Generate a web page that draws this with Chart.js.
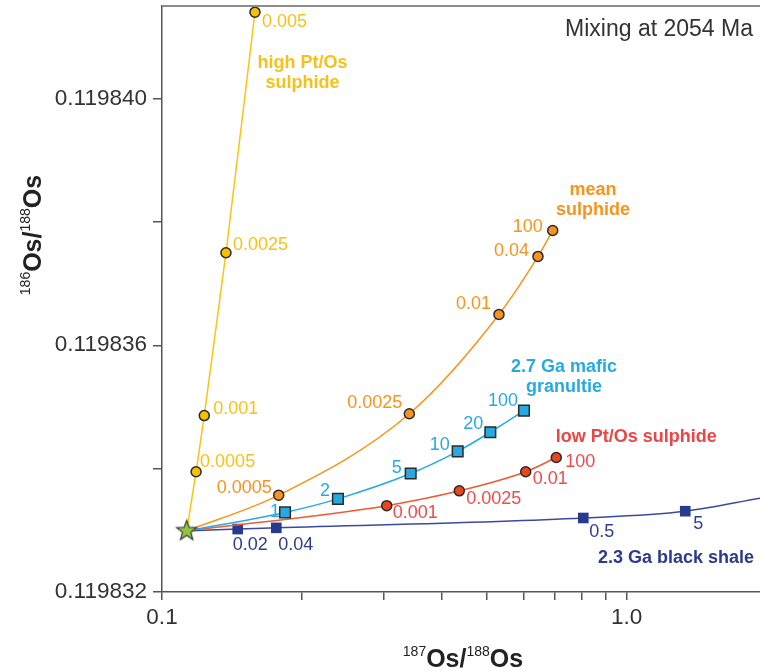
<!DOCTYPE html>
<html lang="en">

<head>
    <meta charset="UTF-8">
    <title>Os isotope mixing at 2054 Ma</title>
    <script src="https://cdn.jsdelivr.net/npm/chart.js"></script>
    <style>
        body { margin: 0; background: #fff; }
    </style>
</head>

<body>
    <div style="width: 760px; height: 671px;">
        <canvas id="mixingChart" width="760" height="671"></canvas>
    </div>
    <script>
        // Common end-member (green star)
        const startRatio = [0.1130, 0.11983299];

        // Mixing curves: 187Os/188Os (x), 186Os/188Os (y), tick tags
        const highPtOsX = [0.1184, 0.1233, 0.1373, 0.1585];
        const highPtOsY = [0.11983395, 0.11983486, 0.11983750, 0.11984140];
        const highPtOsTags = ['0.0005', '0.001', '0.0025', '0.005'];

        const meanSulphideX = [0.1783, 0.3406, 0.5311, 0.6443, 0.6931];
        const meanSulphideY = [0.11983357, 0.11983489, 0.11983650, 0.11983744, 0.11983786];
        const meanSulphideTags = ['0.0005', '0.0025', '0.01', '0.04', '100'];

        const maficX = [0.1840, 0.2391, 0.3429, 0.4328, 0.5088, 0.6012];
        const maficY = [0.11983329, 0.11983351, 0.11983392, 0.11983428, 0.11983459, 0.11983494];
        const maficTags = ['1', '2', '5', '10', '20', '100'];

        const lowPtOsX = [0.3045, 0.4363, 0.6063, 0.7055];
        const lowPtOsY = [0.11983340, 0.11983364, 0.11983395, 0.11983418];
        const lowPtOsTags = ['0.001', '0.0025', '0.01', '100'];

        const shaleX = [0.1455, 0.1762, 0.8065, 1.3367];
        const shaleY = [0.11983302, 0.11983304, 0.11983320, 0.11983331];
        const shaleTags = ['0.02', '0.04', '0.5', '5'];
        const shaleEnd = [1.936, 0.11983352]; // curve leaves the plot here

        // Axis ticks
        const xTicks = [0.1, 0.2, 0.3, 0.4, 0.5, 0.6, 0.7, 0.8, 0.9, 1.0];
        const yTicks = [0.119832, 0.119834, 0.119836, 0.119838, 0.119840];
        const xRange = [0.1, 1.936];
        const yRange = [0.119832, 0.1198415];

        const FONT = '"Liberation Sans", Arial, Helvetica, sans-serif';
        const AXIS = '#555';
        const TEXT = '#333';

        function points(xs, ys, extra) {
            const pts = [{ x: startRatio[0], y: startRatio[1] }];
            xs.forEach((x, i) => pts.push({ x: x, y: ys[i] }));
            if (extra) pts.push({ x: extra[0], y: extra[1] });
            return pts;
        }

        // filled five-point star used as the point style for the end-member
        function makeStar(r) {
            const c = document.createElement('canvas');
            const s = Math.ceil(r * 2 + 4);
            c.width = s; c.height = s;
            const g = c.getContext('2d');
            g.beginPath();
            for (let i = 0; i < 10; i++) {
                const rad = i % 2 === 0 ? r : r * 0.42;
                const a = -Math.PI / 2 + i * Math.PI / 5;
                g.lineTo(s / 2 + rad * Math.cos(a), s / 2 + rad * Math.sin(a));
            }
            g.closePath();
            g.fillStyle = '#8dc63f';
            g.fill();
            g.lineWidth = 1.2;
            g.strokeStyle = '#3a3a3a';
            g.stroke();
            return c;
        }

        // series definitions: tag colour and label offsets [dx, dy, align]
        const series = [
            {
                name: 'high Pt/Os sulphide', xs: highPtOsX, ys: highPtOsY, tags: highPtOsTags,
                line: '#fbc410', fill: '#f7c000', text: '#f6c21a', style: 'circle',
                offsets: [[4, -10, 'left'], [9, -7, 'left'], [7, -8, 'left'], [7, 10, 'left']]
            },
            {
                name: 'mean sulphide', xs: meanSulphideX, ys: meanSulphideY, tags: meanSulphideTags,
                line: '#f7941d', fill: '#f7941d', text: '#f7941d', style: 'circle',
                offsets: [[-7, -7, 'right'], [-7, -11, 'right'], [-8, -10, 'right'], [-9, -5, 'right'], [-10, -3, 'right']]
            },
            {
                name: '2.7 Ga mafic granultie', xs: maficX, ys: maficY, tags: maficTags,
                line: '#27aae1', fill: '#27aae1', text: '#27aae1', style: 'rect',
                offsets: [[-5, 0, 'right'], [-8, -8, 'right'], [-9, -6, 'right'], [-8, -6, 'right'], [-7, -8, 'right'], [-6, -10, 'right']]
            },
            {
                name: 'low Pt/Os sulphide', xs: lowPtOsX, ys: lowPtOsY, tags: lowPtOsTags,
                line: '#ef5a32', fill: '#e8461e', text: '#ee4c4c', style: 'circle',
                offsets: [[6, 7, 'left'], [7, 8, 'left'], [7, 7, 'left'], [9, 5, 'left']]
            },
            {
                name: '2.3 Ga black shale', xs: shaleX, ys: shaleY, tags: shaleTags, end: shaleEnd,
                line: '#3b4a9c', fill: '#263a8e', text: '#2e3d8f', style: 'rect', noOutline: true,
                offsets: [[-5, 16, 'left'], [2, 17, 'left'], [6, 14, 'left'], [8, 13, 'left']]
            }
        ];

        // where the curve names sit, in data units (centre of text block)
        const seriesNames = [
            { lines: ['high Pt/Os', 'sulphide'], x: 0.2006, y: 0.11984042, color: '#f6c21a' },
            { lines: ['mean', 'sulphide'], x: 0.846, y: 0.11983836, color: '#f7941d' },
            { lines: ['2.7 Ga mafic', 'granultie'], x: 0.733, y: 0.11983548, color: '#27aae1' },
            { lines: ['low Pt/Os sulphide'], x: 1.048, y: 0.11983451, color: '#ec4545' },
            { lines: ['2.3 Ga black shale'], x: 1.277, y: 0.11983255, color: '#2b3a8d' }
        ];

        const datasets = [{
            label: 'end-member',
            data: [{ x: startRatio[0], y: startRatio[1] }],
            pointStyle: makeStar(10.5),
            pointRadius: 10,
            showLine: false
        }];

        series.forEach(s => {
            const n = s.xs.length;
            datasets.push({
                label: s.name,
                data: points(s.xs, s.ys, s.end),
                showLine: true,
                borderColor: s.line,
                borderWidth: 1.5,
                cubicInterpolationMode: 'monotone',
                pointStyle: s.style,
                pointBackgroundColor: s.fill,
                pointBorderColor: s.noOutline ? s.fill : '#2a2a2a',
                pointBorderWidth: s.noOutline ? 0 : 1.5,
                pointRadius: ctx => (ctx.dataIndex === 0 || ctx.dataIndex > n) ? 0 : (s.style === 'rect' ? 7.5 : 5)
            });
        });

        function drawSupText(ctx, parts, x, y) {
            // parts: [text, isSup]
            const big = 'bold 25px ' + FONT;
            const small = '14px ' + FONT;
            let w = 0;
            parts.forEach(p => { ctx.font = p[1] ? small : big; w += ctx.measureText(p[0]).width; });
            let cx = x - w / 2;
            ctx.textAlign = 'left';
            ctx.textBaseline = 'alphabetic';
            parts.forEach(p => {
                ctx.font = p[1] ? small : big;
                ctx.fillText(p[0], cx, p[1] ? y - 11 : y);
                cx += ctx.measureText(p[0]).width;
            });
        }

        const annotations = {
            id: 'annotations',
            afterDatasetsDraw(chart) {
                const ctx = chart.ctx;
                const area = chart.chartArea;
                const xs = chart.scales.x, ys = chart.scales.y;
                ctx.save();

                // top frame line
                ctx.strokeStyle = '#8c8c8c';
                ctx.lineWidth = 2;
                ctx.beginPath();
                ctx.moveTo(area.left, area.top);
                ctx.lineTo(area.right, area.top);
                ctx.stroke();

                // tags next to each mixing point
                ctx.font = '18px ' + FONT;
                ctx.textBaseline = 'middle';
                series.forEach((s, si) => {
                    const meta = chart.getDatasetMeta(si + 1);
                    ctx.fillStyle = s.text;
                    s.tags.forEach((t, i) => {
                        const el = meta.data[i + 1];
                        const o = s.offsets[i];
                        ctx.textAlign = o[2];
                        ctx.fillText(t, el.x + o[0], el.y + o[1]);
                    });
                });

                // curve names
                ctx.font = 'bold 18px ' + FONT;
                ctx.textAlign = 'center';
                seriesNames.forEach(n => {
                    const px = xs.getPixelForValue(n.x);
                    const py = ys.getPixelForValue(n.y);
                    ctx.fillStyle = n.color;
                    const h = 20;
                    n.lines.forEach((l, i) => {
                        ctx.fillText(l, px, py + (i - (n.lines.length - 1) / 2) * h);
                    });
                });

                // panel title
                ctx.font = '23px ' + FONT;
                ctx.fillStyle = TEXT;
                ctx.textAlign = 'right';
                ctx.fillText('Mixing at 2054 Ma', area.right - 7, area.top + 24);

                // axis titles with superscript mass numbers
                ctx.fillStyle = '#222';
                drawSupText(ctx, [['187', true], ['Os/', false], ['188', true], ['Os', false]], 463, 667);
                ctx.save();
                ctx.translate(41, 235);
                ctx.rotate(-Math.PI / 2);
                drawSupText(ctx, [['186', true], ['Os/', false], ['188', true], ['Os', false]], 0, 0);
                ctx.restore();

                ctx.restore();
            }
        };

        const config = {
            type: 'scatter',
            data: { datasets: datasets },
            options: {
                responsive: false,
                animation: false,
                events: [],
                layout: { autoPadding: false, padding: { top: 6, right: 0, left: 0, bottom: 0 } },
                plugins: {
                    legend: { display: false },
                    tooltip: { enabled: false }
                },
                scales: {
                    x: {
                        type: 'logarithmic',
                        min: xRange[0],
                        max: xRange[1],
                        afterBuildTicks: scale => { scale.ticks = xTicks.map(v => ({ value: v })); },
                        afterFit: scale => { scale.height = 79; scale.paddingLeft = 0; scale.paddingRight = 0; },
                        border: { display: true, color: AXIS, width: 1.5 },
                        grid: { drawOnChartArea: false, drawTicks: true, tickLength: 8, color: AXIS, lineWidth: 1.5 },
                        ticks: {
                            autoSkip: false,
                            maxRotation: 0,
                            padding: 4,
                            color: TEXT,
                            font: { family: FONT, size: 22.5 },
                            callback: v => (v === 0.1 ? '0.1' : v === 1 ? '1.0' : '')
                        }
                    },
                    y: {
                        type: 'linear',
                        min: yRange[0],
                        max: yRange[1],
                        afterBuildTicks: scale => { scale.ticks = yTicks.map(v => ({ value: v })); },
                        afterFit: scale => { scale.width = 162; scale.paddingTop = 0; scale.paddingBottom = 0; },
                        border: { display: true, color: AXIS, width: 1.5 },
                        grid: { drawOnChartArea: false, drawTicks: true, tickLength: 9, color: AXIS, lineWidth: 1.5 },
                        ticks: {
                            autoSkip: false,
                            padding: 6,
                            color: TEXT,
                            font: { family: FONT, size: 22.5 },
                            callback: (v, i) => (i % 2 === 0 ? v.toFixed(6) : '')
                        }
                    }
                }
            },
            plugins: [annotations]
        };

        const mixingChart = new Chart(document.getElementById('mixingChart'), config);
    </script>
</body>

</html>
